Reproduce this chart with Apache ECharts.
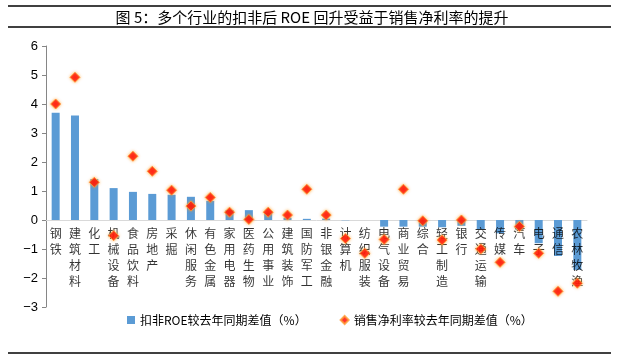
<!DOCTYPE html>
<html>
<head>
<meta charset="utf-8">
<script src="https://cdn.jsdelivr.net/npm/echarts@6/dist/echarts.min.js"></script>
<style>html,body{margin:0;padding:0;background:#fff}#c{width:624px;height:361px}</style>
</head>
<body>
<div id="c"></div>
<script>
var categories = ['钢铁','建筑材料','化工','机械设备','食品饮料','房地产','采掘','休闲服务','有色金属','家用电器','医药生物','公用事业','建筑装饰','国防军工','非银金融','计算机','纺织服装','电气设备','商业贸易','综合','轻工制造','银行','交通运输','传媒','汽车','电子','通信','农林牧渔'];
var roeDiff = [3.7,3.6,1.41,1.1,0.97,0.9,0.87,0.8,0.66,0.34,0.34,0.25,0.08,0.04,0.05,-0.01,0,-0.23,-0.23,-0.23,-0.25,-0.2,-0.32,-0.46,-0.35,-0.8,-1.24,-1.72];
var marginDiff = [4.0,4.92,1.3,-0.54,2.2,1.68,1.03,0.48,0.78,0.27,0.02,0.27,0.17,1.06,0.17,-0.64,-1.15,-0.67,1.06,-0.03,-0.69,0.0,-1.0,-1.46,-0.22,-1.15,-2.46,-2.18];
var yTicks = [-3,-2,-1,0,1,2,3,4,5,6];
var seriesNames = ['扣非ROE较去年同期差值（%）','销售净利率较去年同期差值（%）'];
var titleText = '图 5：多个行业的扣非后 ROE 回升受益于销售净利率的提升';

var cjk = '"Noto Sans CJK SC", sans-serif';
var chart = echarts.init(document.getElementById('c'), null, {renderer:'canvas'});
chart.setOption({
  animation:false,
  backgroundColor:'#fff',
  title:{text:titleText,left:'center',top:5,textStyle:{fontFamily:cjk,fontSize:15,fontWeight:'normal',color:'#000'}},
  graphic:[
    {type:'line',shape:{x1:8,y1:6,x2:611,y2:6},style:{stroke:'#000',lineWidth:1.5}},
    {type:'line',shape:{x1:8,y1:27,x2:611,y2:27},style:{stroke:'#000',lineWidth:1.5}},
    {type:'line',shape:{x1:8,y1:353,x2:611,y2:353},style:{stroke:'#000',lineWidth:1.5}}
  ],
  legend:{
    top:309,left:122,itemGap:33,itemWidth:8,itemHeight:8,
    textStyle:{fontFamily:cjk,fontSize:12,color:'#000'},
    data:[{name:seriesNames[0],icon:'rect'},{name:seriesNames[1],icon:'diamond'}]
  },
  grid:{left:46,right:37,top:46,bottom:54,containLabel:false,outerBoundsMode:'none'},
  xAxis:{
    type:'category',data:categories,
    axisLine:{onZero:true,lineStyle:{color:'#d9d9d9',width:1}},
    axisTick:{show:false},
    axisLabel:{show:false}
  },
  yAxis:{
    type:'value',min:-3,max:6,interval:1,
    splitLine:{show:false},
    axisLine:{show:true,lineStyle:{color:'#868686'}},
    axisTick:{show:true,length:4,inside:false,lineStyle:{color:'#868686'}},
    axisLabel:{margin:8,fontFamily:'Arial, "Liberation Sans", sans-serif',fontSize:13,color:'#000',
      formatter:function(v){return yTicks.indexOf(v)>=0 ? String(v).replace('-','\u2212') : '';}}
  },
  series:[
    {name:seriesNames[0],type:'bar',data:roeDiff,barWidth:8,itemStyle:{color:'#5B9BD5'},z:2},
    {name:'labels',type:'scatter',silent:true,symbolSize:0,z:3,
      data:categories.map(function(c){return [c,0];}),
      label:{show:true,position:'bottom',distance:5,fontFamily:cjk,fontSize:12,color:'#000',lineHeight:16,
        formatter:function(p){return p.name ? p.name.split('').join('\n') : String(p.value[0]).split('').join('\n');}}},
    {name:seriesNames[1],type:'scatter',data:marginDiff,symbol:'diamond',symbolSize:10,
      itemStyle:{color:'#FF0000',borderColor:'#FF9a30',borderWidth:1,shadowColor:'rgba(255,160,40,0.9)',shadowBlur:3},z:5}
  ]
});
</script>
</body>
</html>
